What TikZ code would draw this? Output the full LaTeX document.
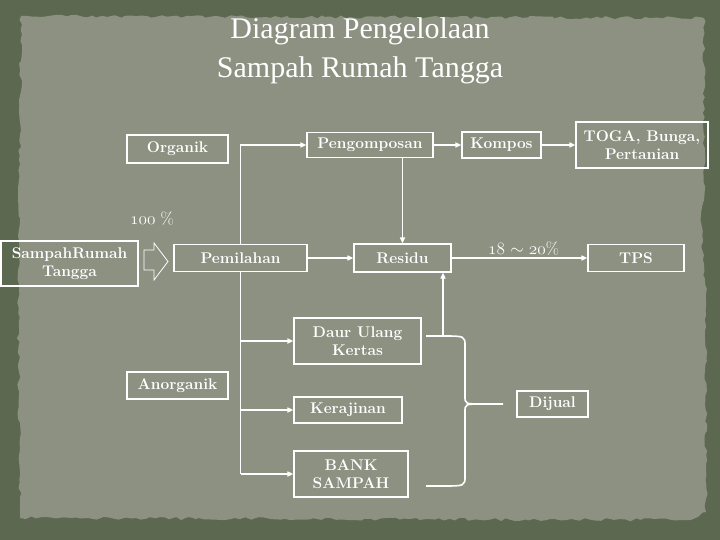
\documentclass[tikz,border=0pt]{standalone}
\usepackage{fontspec}
\newfontfamily\titlefont{Liberation Serif}
\usetikzlibrary{arrows.meta,positioning,calc,decorations.pathmorphing}
\definecolor{bgolive}{RGB}{92,104,80}
\definecolor{paper}{RGB}{140,145,130}

\begin{document}
\begin{tikzpicture}[x=1pt, y=-1pt,
  box/.style={draw=white, line width=1.1pt, rectangle, align=center, text=white,
    font=\fontsize{15.5}{17.5}\selectfont\bfseries, inner sep=1pt},
  lbl/.style={text=white, font=\fontsize{17}{19}\selectfont, inner sep=2pt},
  ttl/.style={text=white, font=\titlefont\fontsize{30}{32}\selectfont, anchor=base},
  ar/.style={-{Triangle[length=6pt,width=5pt]}, draw=white, line width=1.6pt},
  ln/.style={draw=white, line width=1.6pt},
]

%--- Latar (kertas sobek) ---
\useasboundingbox (0,0) rectangle (720,540);
\fill[bgolive] (0,0) rectangle (720,540);
\pgfmathsetseed{11}
\fill[paper, decorate, decoration={random steps, segment length=5pt, amplitude=1.6pt}]
  (21,16) -- (704,18) -- (704,200) -- (701,215) -- (706,300) -- (706,512)
  -- (690,520) -- (20,518) -- (18,300) -- cycle;

%--- Judul ---
\node[ttl] (jd1) at (360,39) {Diagram Pengelolaan};
\node[ttl] (jd2) at (360,78) {Sampah Rumah Tangga};

%--- Baris organik ---
\node[box, minimum width=101pt, minimum height=28pt] (org)    at (177.5,149) {Organik};
\node[box, minimum width=126pt, minimum height=25pt] (komp)   at (370,145)   {Pengomposan};
\node[box, minimum width=79pt,  minimum height=26pt] (kompos) at (501.5,145) {Kompos};
\node[box, minimum width=132pt, minimum height=46pt] (toga)   at (642,145)   {TOGA, Bunga,\\Pertanian};

%--- Baris tengah ---
\node[lbl] (pct) at (152,219) {$\mathnormal{100}$ \%};
\node[box, minimum width=137pt, minimum height=45pt] (sampah)  at (69.5,263.5) {SampahRumah\\Tangga};
\node[box, minimum width=133pt, minimum height=27pt] (pemilah) at (240.5,258)  {Pemilahan};
\node[box, minimum width=97pt,  minimum height=28pt] (residu)  at (402.5,258)  {Residu};
\node[box, minimum width=96pt,  minimum height=27pt] (tps)     at (636,258)    {TPS};

%--- Baris anorganik ---
\node[box, minimum width=127pt, minimum height=46pt] (daur)   at (357.5,341) {Daur Ulang\\Kertas};
\node[box, minimum width=101pt, minimum height=27pt] (anorg)  at (177.5,385.5) {Anorganik};
\node[box, minimum width=108pt, minimum height=26pt] (kera)   at (348,410)   {Kerajinan};
\node[box, minimum width=114pt, minimum height=46pt] (bank)   at (351,474)   {BANK\\SAMPAH};
\node[box, minimum width=71pt,  minimum height=26pt] (dijual) at (552.5,404) {Dijual};

%--- Panah ---
\draw[white, line width=0.8pt] (144,250) -- (154,250) -- (154,243) -- (168,261.5)
  -- (154,280) -- (154,270) -- (144,270) -- cycle;
\draw[ar] (pemilah.north) |- (komp.west);
\draw[ar] (komp) -- (kompos);
\draw[ar] (kompos) -- (toga);
\draw[ar] (komp.south -| residu.north) -- (residu.north);
\draw[ar] (pemilah) -- (residu);
\draw[ar] (residu) -- node[lbl, above, pos=0.53] {$\mathnormal{18}$ $\sim$ $\mathnormal{20}$\%} (tps);
\draw[ln] (pemilah.south) -- (pemilah.south |- bank.west);
\draw[ar] (pemilah.south |- daur.west) -- (daur.west);
\draw[ar] (pemilah.south |- kera.west) -- (kera.west);
\draw[ar] (pemilah.south |- bank.west) -- (bank.west);

%--- Kurung ke Dijual ---
\coordinate (brT) at (426,336);
\coordinate (brB) at (426,486);
\coordinate (brM) at (503,404);
\coordinate (upft) at (443,336);
\draw[ln] (brT) -- (442,336) .. controls (465,336) .. (465,346) -- (465,396)
  .. controls (465,404) .. (483,404) -- (brM);
\draw[ln] (483,404) .. controls (465,404) .. (465,412) -- (465,476)
  .. controls (465,486) .. (442,486) -- (brB);
\draw[ar] (upft) -- (upft |- residu.south);

\end{tikzpicture}
\end{document}
